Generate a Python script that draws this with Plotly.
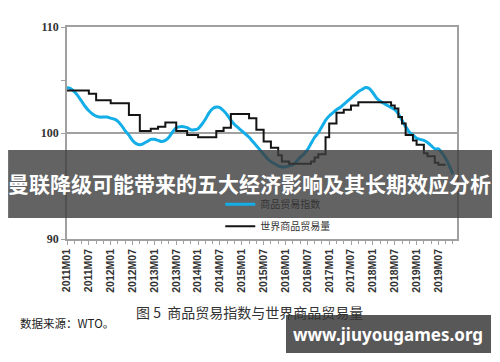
import plotly.graph_objects as go

# Month labels 2011M01 .. 2019M11
months = [f"{y}M{m:02d}" for y in range(2011, 2020) for m in range(1, 13)][:107]

# 商品贸易指数 (smooth index)
trade_index = [
    104.3, 104.2, 103.9, 103.5, 103.0, 102.5, 102.1, 101.8, 101.6, 101.5,
    101.5, 101.5, 101.4, 101.3, 101.1, 100.7, 100.2, 99.8, 99.3, 99.0,
    98.9, 99.0, 99.2, 99.4, 99.4, 99.3, 99.2, 99.3, 99.6, 100.1,
    100.5, 100.6, 100.6, 100.5, 100.3, 100.3, 100.4, 100.8, 101.3, 101.9,
    102.3, 102.45, 102.4, 102.1, 101.7, 101.2, 100.8, 100.5, 100.2, 99.9,
    99.6, 99.2, 98.8, 98.4, 98.0, 97.6, 97.3, 97.1, 96.9, 96.8,
    96.8, 96.9, 97.0, 97.3, 97.7, 98.0, 98.4, 99.0, 99.6, 100.0,
    100.6, 101.2, 101.6, 101.9, 102.2, 102.4, 102.7, 103.0, 103.3, 103.6,
    103.9, 104.1, 104.3, 104.2, 103.8, 103.3, 103.0, 102.8, 102.6, 102.4,
    102.2, 101.8, 101.2, 100.6, 100.1, 99.8, 99.5, 99.4, 99.3, 99.1,
    98.8, 98.5, 98.5, 98.1, 97.6, 96.9, 96.1,
]

# 世界商品贸易量 (stepped volume)
trade_volume = [
    104.0, 104.0, 104.0, 104.0, 104.0, 104.0, 103.7, 103.7, 103.1, 103.1,
    103.1, 103.1, 102.8, 102.8, 102.8, 102.8, 102.8, 101.7, 101.7, 101.7,
    100.2, 100.2, 100.2, 100.4, 100.4, 100.6, 100.6, 101.0, 101.0, 101.0,
    100.2, 100.2, 100.2, 99.8, 99.8, 99.8, 99.6, 99.6, 99.6, 99.6,
    99.6, 100.2, 100.2, 100.5, 100.5, 101.8, 101.8, 101.8, 101.8, 101.8,
    101.4, 101.4, 100.3, 100.3, 99.2, 99.2, 98.6, 98.6, 97.9, 97.3,
    97.3, 97.1, 97.1, 97.1, 97.1, 97.1, 97.1, 97.3, 97.7, 98.0,
    98.0, 99.6, 100.9, 100.9, 101.9, 101.9, 102.2, 102.2, 102.6, 102.6,
    102.9, 102.9, 102.9, 102.9, 102.9, 102.9, 102.9, 102.9, 102.9, 102.6,
    102.3, 101.5, 100.9, 99.8, 99.8, 99.3, 98.9, 98.9, 98.1, 97.8,
    97.8, 97.2, 97.0, 97.0, 97.0,
]

x_idx = list(range(len(months)))
label_vals = [i for i in x_idx if i % 6 == 0]
label_text = [months[i] for i in label_vals]

fig = go.Figure()
fig.add_trace(go.Scatter(
    x=x_idx[:len(trade_index)], y=trade_index, mode="lines", name="商品贸易指数",
    legendgroup="idx",
    line=dict(color="#13aee8", width=3, shape="spline", smoothing=0.6),
))
fig.add_trace(go.Scatter(
    x=x_idx[:len(trade_volume)], y=trade_volume, mode="lines", name="世界商品贸易量",
    legendgroup="vol",
    line=dict(color="#141414", width=2, shape="hv"),
))

axis_gray = "#a0a0a0"
# margins compensate for the page's default 8px body margin
fig.update_layout(
    width=500, height=362,
    margin=dict(l=59, r=51, t=19, b=131, autoexpand=False),
    paper_bgcolor="white", plot_bgcolor="white",
    showlegend=True,
    legend=dict(
        x=0.393, y=0.232, xanchor="left", yanchor="top",
        bgcolor="rgba(0,0,0,0)", borderwidth=0,
        font=dict(family="Noto Sans CJK SC", size=10, color="#333333"),
        tracegroupgap=3,
    ),
    xaxis=dict(
        range=[0, 107.1], showgrid=False, zeroline=False, automargin=False,
        showline=True, linecolor=axis_gray, linewidth=1.5, mirror=True,
        tickmode="array", tickvals=label_vals, ticktext=label_text,
        tickangle=-90, ticks="outside", ticklen=4, tickcolor=axis_gray,
        tickfont=dict(family="Liberation Sans", size=10.5, color="#333333", weight="bold"),
        minor=dict(tickmode="linear", tick0=0, dtick=2, ticks="outside",
                   ticklen=3, tickcolor=axis_gray, showgrid=False),
    ),
    yaxis=dict(
        range=[90, 110], zeroline=False, automargin=False,
        showline=True, linecolor=axis_gray, linewidth=1.5, mirror=True,
        tickmode="array", tickvals=[90, 100, 110], ticktext=["90", "100", "110"],
        showgrid=True, gridcolor=axis_gray, gridwidth=1.5,
        ticks="outside", ticklen=4, tickcolor=axis_gray,
        tickfont=dict(family="Liberation Serif", size=12, color="#333333", weight="bold"),
        minor=dict(tickvals=[95, 105], ticks="outside", ticklen=4,
                   tickcolor=axis_gray, showgrid=False),
    ),
)

# Caption and source
fig.add_annotation(
    text="图 5  商品贸易指数与世界商品贸易量", xref="paper", yref="paper",
    x=0.469, y=-0.344, xanchor="center", yanchor="middle", showarrow=False,
    font=dict(family="Noto Sans CJK SC", size=14, color="#333333"),
)
fig.add_annotation(
    text="数据来源：WTO。", xref="paper", yref="paper",
    x=-0.126, y=-0.396, xanchor="left", yanchor="middle", showarrow=False,
    font=dict(family="Noto Sans CJK SC", size=11.5, color="#222222"),
)

# Overlay banner
fig.add_shape(
    type="rect", xref="paper", yref="paper",
    x0=-0.151, x1=1.0897, y0=0.099, y1=0.4198,
    fillcolor="rgba(60,60,60,0.8)", line=dict(width=0), layer="above",
)
fig.add_annotation(
    text="<b>曼联降级可能带来的五大经济影响及其长期效应分析</b>", xref="paper", yref="paper",
    x=0.469, y=0.262, xanchor="center", yanchor="middle", showarrow=False,
    font=dict(family="Noto Sans CJK SC", size=21, color="white"),
)

# Watermark box
fig.add_shape(
    type="rect", xref="paper", yref="paper",
    x0=0.5615, x1=1.0872, y0=-0.5377, y1=-0.3585,
    fillcolor="rgba(70,70,70,0.9)", line=dict(width=0), layer="above",
)
fig.add_annotation(
    text="<b>www.jiuyougames.org</b>", xref="paper", yref="paper",
    x=0.824, y=-0.45, xanchor="center", yanchor="middle", showarrow=False,
    font=dict(family="Noto Sans", size=17, color="white"),
)

fig.write_html("out.html")
